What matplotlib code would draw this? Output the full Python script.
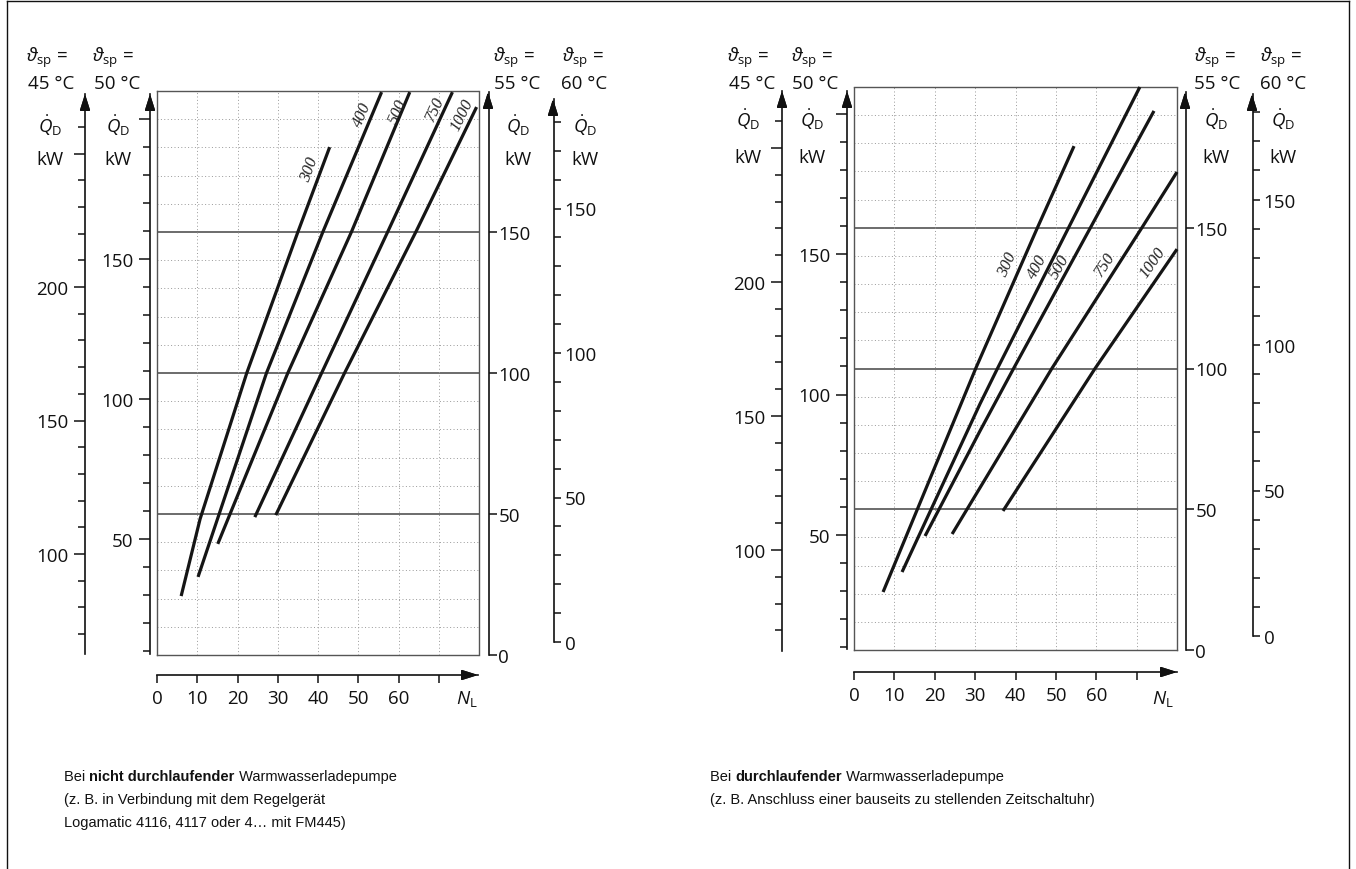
import numpy as np
import matplotlib.pyplot as plt
from matplotlib.lines import Line2D

W, H = 1356, 870

plt.rcParams['font.family'] = ['Open Sans', 'DejaVu Sans']
plt.rcParams['mathtext.fontset'] = 'custom'
plt.rcParams['mathtext.rm'] = 'Open Sans'
plt.rcParams['mathtext.it'] = 'Open Sans:italic'
plt.rcParams['mathtext.bf'] = 'Open Sans:bold'

# ---- data (N_L, Q_D on the 55 degC scale) ----
curve_names = ['300', '400', '500', '750', '1000']

# left: nicht durchlaufende Ladepumpe
l300_n = [6.0, 10.7, 22.3, 35.0, 42.9]
l300_q = [20.9, 48.2, 100, 150, 180.1]
l400_n = [10.2, 27.2, 41.2, 55.8]
l400_q = [27.7, 100, 150, 199.6]
l500_n = [15.1, 32.5, 48.3, 62.8]
l500_q = [39.4, 100, 150, 199.6]
l750_n = [24.3, 40.9, 57.3, 73.4]
l750_q = [48.9, 100, 150, 199.6]
l1000_n = [29.5, 46.6, 64.3, 79.4]
l1000_q = [49.6, 100, 150, 194.3]

# right: durchlaufende Ladepumpe
r300_n = [7.2, 30.2, 45.3, 54.5]
r300_q = [20.6, 100.2, 149.6, 179.0]
r400_n = [11.9, 31.2, 35.6, 53.0, 70.8]
r400_q = [27.7, 87.4, 100.2, 149.6, 200]
r500_n = [17.6, 31.2, 39.6, 58.4, 74.3]
r500_q = [40.5, 77.8, 100.2, 149.6, 191.5]
r750_n = [24.3, 49.0, 71.3, 80]
r750_q = [41.2, 100, 150, 169.8]
r1000_n = [36.9, 59.7, 80]
r1000_q = [49.4, 100, 142.4]

# curve label positions (N, Q) and rotation
l_lab_n = [38.0, 51.1, 59.8, 69.0, 75.7]
l_lab_q = [172.3, 191.8, 192.9, 193.6, 191.8]
l_lab_rot = [70, 67, 67, 65, 64]
r_lab_n = [38.1, 45.3, 51.0, 62.1, 74.0]
r_lab_q = [137.1, 136.4, 136.4, 137.1, 137.8]
r_lab_rot = [66, 62, 60, 57, 55]

# scales
q45_ticks = list(range(70, 261, 10))
q45_labels = [100, 150, 200]
q45_long = [100, 150, 200, 250]
q50_ticks = list(range(10, 201, 10))
q50_labels = [50, 100, 150]
q50_long = [50, 100, 150, 200]
q55_ticks = [0, 50, 100, 150]
q60_ticks = list(range(0, 181, 10))
q60_labels = [0, 50, 100, 150]
n_ticks = list(range(0, 71, 10))
n_labels = [0, 10, 20, 30, 40, 50, 60]
grid_q = list(range(10, 200, 10))
grid_q_solid = [50, 100, 150]
grid_n = list(range(10, 80, 10))

left_caption = [[('Bei ', 'normal'), ('nicht durchlaufender', 'bold'), (' Warmwasserladepumpe', 'normal')],
                [('(z. B. in Verbindung mit dem Regelgerät', 'normal')],
                [('Logamatic 4116, 4117 oder 4… mit FM445)', 'normal')]]
right_caption = [[('Bei ', 'normal'), ('durchlaufender', 'bold'), (' Warmwasserladepumpe', 'normal')],
                 [('(z. B. Anschluss einer bauseits zu stellenden Zeitschaltuhr)', 'normal')]]

fig = plt.figure(figsize=(W / 100, H / 100), dpi=100)
fig.patch.set_facecolor('white')


def fx(x):
    return x / W


def fy(y):
    return 1 - y / H


def arrow_up(x, y):
    fig.add_artist(plt.annotate('', xy=(x, H - y), xytext=(x, H - y - 14), xycoords='figure pixels',
                                textcoords='figure pixels',
                                arrowprops=dict(arrowstyle='-|>,head_length=0.7,head_width=0.22', color='#111',
                                                lw=1.1, mutation_scale=14, shrinkA=0, shrinkB=0)))


def arrow_right(x, y):
    fig.add_artist(plt.annotate('', xy=(x, H - y), xytext=(x - 14, H - y), xycoords='figure pixels',
                                textcoords='figure pixels',
                                arrowprops=dict(arrowstyle='-|>,head_length=0.7,head_width=0.22', color='#111',
                                                lw=1.1, mutation_scale=14, shrinkA=0, shrinkB=0)))


def scale(x, side, px0, v0, ppu, bot, top, ticks, labels, longs, long_len, short_len, pad):
    def val(p):
        return v0 + (px0 - p) / ppu
    ax = fig.add_axes([fx(x), fy(bot), 0.0004, (bot - top) / H])
    ax.patch.set_visible(False)
    ax.set_ylim(val(bot), val(top))
    ax.set_xticks([])
    for s in ax.spines.values():
        s.set_visible(False)
    ax.spines[side].set_visible(True)
    ax.spines[side].set_linewidth(1.2)
    ax.spines[side].set_color('#111')
    major = [t for t in ticks if t in labels or t in longs]
    minor = [t for t in ticks if t not in major]
    ax.set_yticks(major)
    ax.set_yticklabels([str(t) if t in labels else '' for t in major])
    ax.set_yticks(minor, minor=True)
    if side == 'right':
        ax.tick_params(axis='y', which='both', left=False, right=True, labelleft=False, labelright=True)
    ax.tick_params(axis='y', which='major', length=long_len, width=1.1, pad=pad, labelsize=13.5,
                   color='#111', labelcolor='#111')
    ax.tick_params(axis='y', which='minor', length=short_len, width=1.1, color='#111')
    arrow_up(x, top)
    return ax


def nscale(x0, y, x1, ppu):
    ax = fig.add_axes([fx(x0), fy(y), (x1 - x0) / W, 0.0004])
    ax.patch.set_visible(False)
    ax.set_xlim(0, (x1 - x0) / ppu)
    ax.set_yticks([])
    for s in ax.spines.values():
        s.set_visible(False)
    ax.spines['bottom'].set_visible(True)
    ax.spines['bottom'].set_linewidth(1.2)
    ax.spines['bottom'].set_color('#111')
    ax.set_xticks(n_ticks)
    ax.set_xticklabels([str(t) if t in n_labels else '' for t in n_ticks])
    ax.tick_params(axis='x', length=6, width=1.1, pad=4, labelsize=13.5, color='#111', labelcolor='#111')
    arrow_right(x1, y)
    return ax


def chart(box, curves, lab_n, lab_q, lab_rot):
    x0, x1, y0, y1 = box
    ax = fig.add_axes([fx(x0), fy(y1), (x1 - x0) / W, (y1 - y0) / H])
    ax.set_xlim(0, 80)
    ax.set_ylim(0, 200)
    ax.set_xticks([])
    ax.set_yticks([])
    for s in ax.spines.values():
        s.set_linestyle((0, (1, 1)))
        s.set_color('#555')
        s.set_linewidth(1.0)
    for v in grid_q:
        if v in grid_q_solid:
            ax.axhline(v, color='#444', lw=1.1, zorder=1)
        else:
            ax.axhline(v, color='#999', lw=0.7, ls=(0, (1, 2.5)), zorder=1)
    for n in grid_n:
        ax.axvline(n, color='#999', lw=0.7, ls=(0, (1, 2.5)), zorder=1)
    for (n, q) in curves:
        ax.plot(n, q, color='#151515', lw=2.3, solid_capstyle='butt', solid_joinstyle='round',
                zorder=3, clip_on=False)
    for name, n, q, r in zip(curve_names, lab_n, lab_q, lab_rot):
        ax.text(n, q, name, rotation=r, ha='center', va='center', fontsize=12,
                family='Liberation Serif', style='italic', color='#222', zorder=4)
    return ax


def top_labels(xs_theta, xs_temp, xs_q, temps, y_q, y_kw):
    for xt, xc, xq, t in zip(xs_theta, xs_temp, xs_q, temps):
        fig.text(fx(xt), fy(58), r'$\vartheta_{\rm sp}$ =', ha='center', va='center', fontsize=13.5, color='#111')
        fig.text(fx(xc), fy(84), t + ' °C', ha='center', va='center', fontsize=13.5, color='#111')
        fig.text(fx(xq), fy(y_q), r'$\dot{Q}_{\rm D}$', ha='center', va='center', fontsize=13.5, color='#111')
        fig.text(fx(xq), fy(y_kw), 'kW', ha='center', va='center', fontsize=13.5, color='#111')


# left chart
chart((157, 479, 92, 656),
      [(l300_n, l300_q), (l400_n, l400_q), (l500_n, l500_q), (l750_n, l750_q), (l1000_n, l1000_q)],
      l_lab_n, l_lab_q, l_lab_rot)
scale(85, 'left', 555, 100, 2.67, 655, 95, q45_ticks, q45_labels, q45_long, 8, 5, 4)
scale(150, 'left', 540, 50, 2.80, 655, 95, q50_ticks, q50_labels, q50_long, 8, 5, 4)
scale(488, 'right', 656, 0, 2.82, 656, 93, q55_ticks, q55_ticks, [], 5.5, 5.5, 1.5)
scale(553, 'right', 643, 0, 2.89, 643, 100, q60_ticks, q60_labels, [], 5, 5, 3)
nscale(157, 676, 478, 4.025)
fig.text(fx(467), fy(699), r'$N_{\rm L}$', ha='center', va='center', fontsize=13.5, color='#111')
top_labels([47, 113, 514, 583], [51, 117, 517, 584], [50, 118, 518, 585], ['45', '50', '55', '60'], 126, 160)

# right chart
chart((854, 1177, 88, 651),
      [(r300_n, r300_q), (r400_n, r400_q), (r500_n, r500_q), (r750_n, r750_q), (r1000_n, r1000_q)],
      r_lab_n, r_lab_q, r_lab_rot)
scale(782, 'left', 551, 100, 2.68, 652, 92, q45_ticks, q45_labels, q45_long, 8, 5, 4)
scale(847, 'left', 536, 50, 2.81, 650, 92, q50_ticks, q50_labels, q50_long, 8, 5, 4)
scale(1185, 'right', 651, 0, 2.815, 651, 93, q55_ticks, q55_ticks, [], 5.5, 5.5, 1.5)
scale(1252, 'right', 637, 0, 2.91, 637, 95, q60_ticks, q60_labels, [], 5, 5, 3)
nscale(854, 673, 1177, 4.04)
fig.text(fx(1163), fy(699), r'$N_{\rm L}$', ha='center', va='center', fontsize=13.5, color='#111')
top_labels([748, 812, 1215, 1281], [752, 815, 1217, 1283], [748, 812, 1216, 1283], ['45', '50', '55', '60'], 120, 158)

# frame
fig.add_artist(Line2D([fx(7), fx(7)], [0, fy(2)], color='#111', lw=1.0))
fig.add_artist(Line2D([fx(7), fx(1349)], [fy(2), fy(2)], color='#111', lw=1.0))
fig.add_artist(Line2D([fx(1349), fx(1349)], [0, fy(2)], color='#111', lw=1.0))

# captions
renderer = fig.canvas.get_renderer()


def caption(x, y0, lines):
    for i, parts in enumerate(lines):
        xd = x
        for txt, wt in parts:
            t = fig.text(fx(xd), fy(y0 + 23 * i), txt, ha='left', va='center', fontsize=10.5,
                         family='Liberation Sans', weight=wt, color='#111')
            bb = t.get_window_extent(renderer=renderer)
            xd = bb.x1


caption(64, 777, left_caption)
caption(710, 777, right_caption)

fig.savefig('out.png', dpi=100)
